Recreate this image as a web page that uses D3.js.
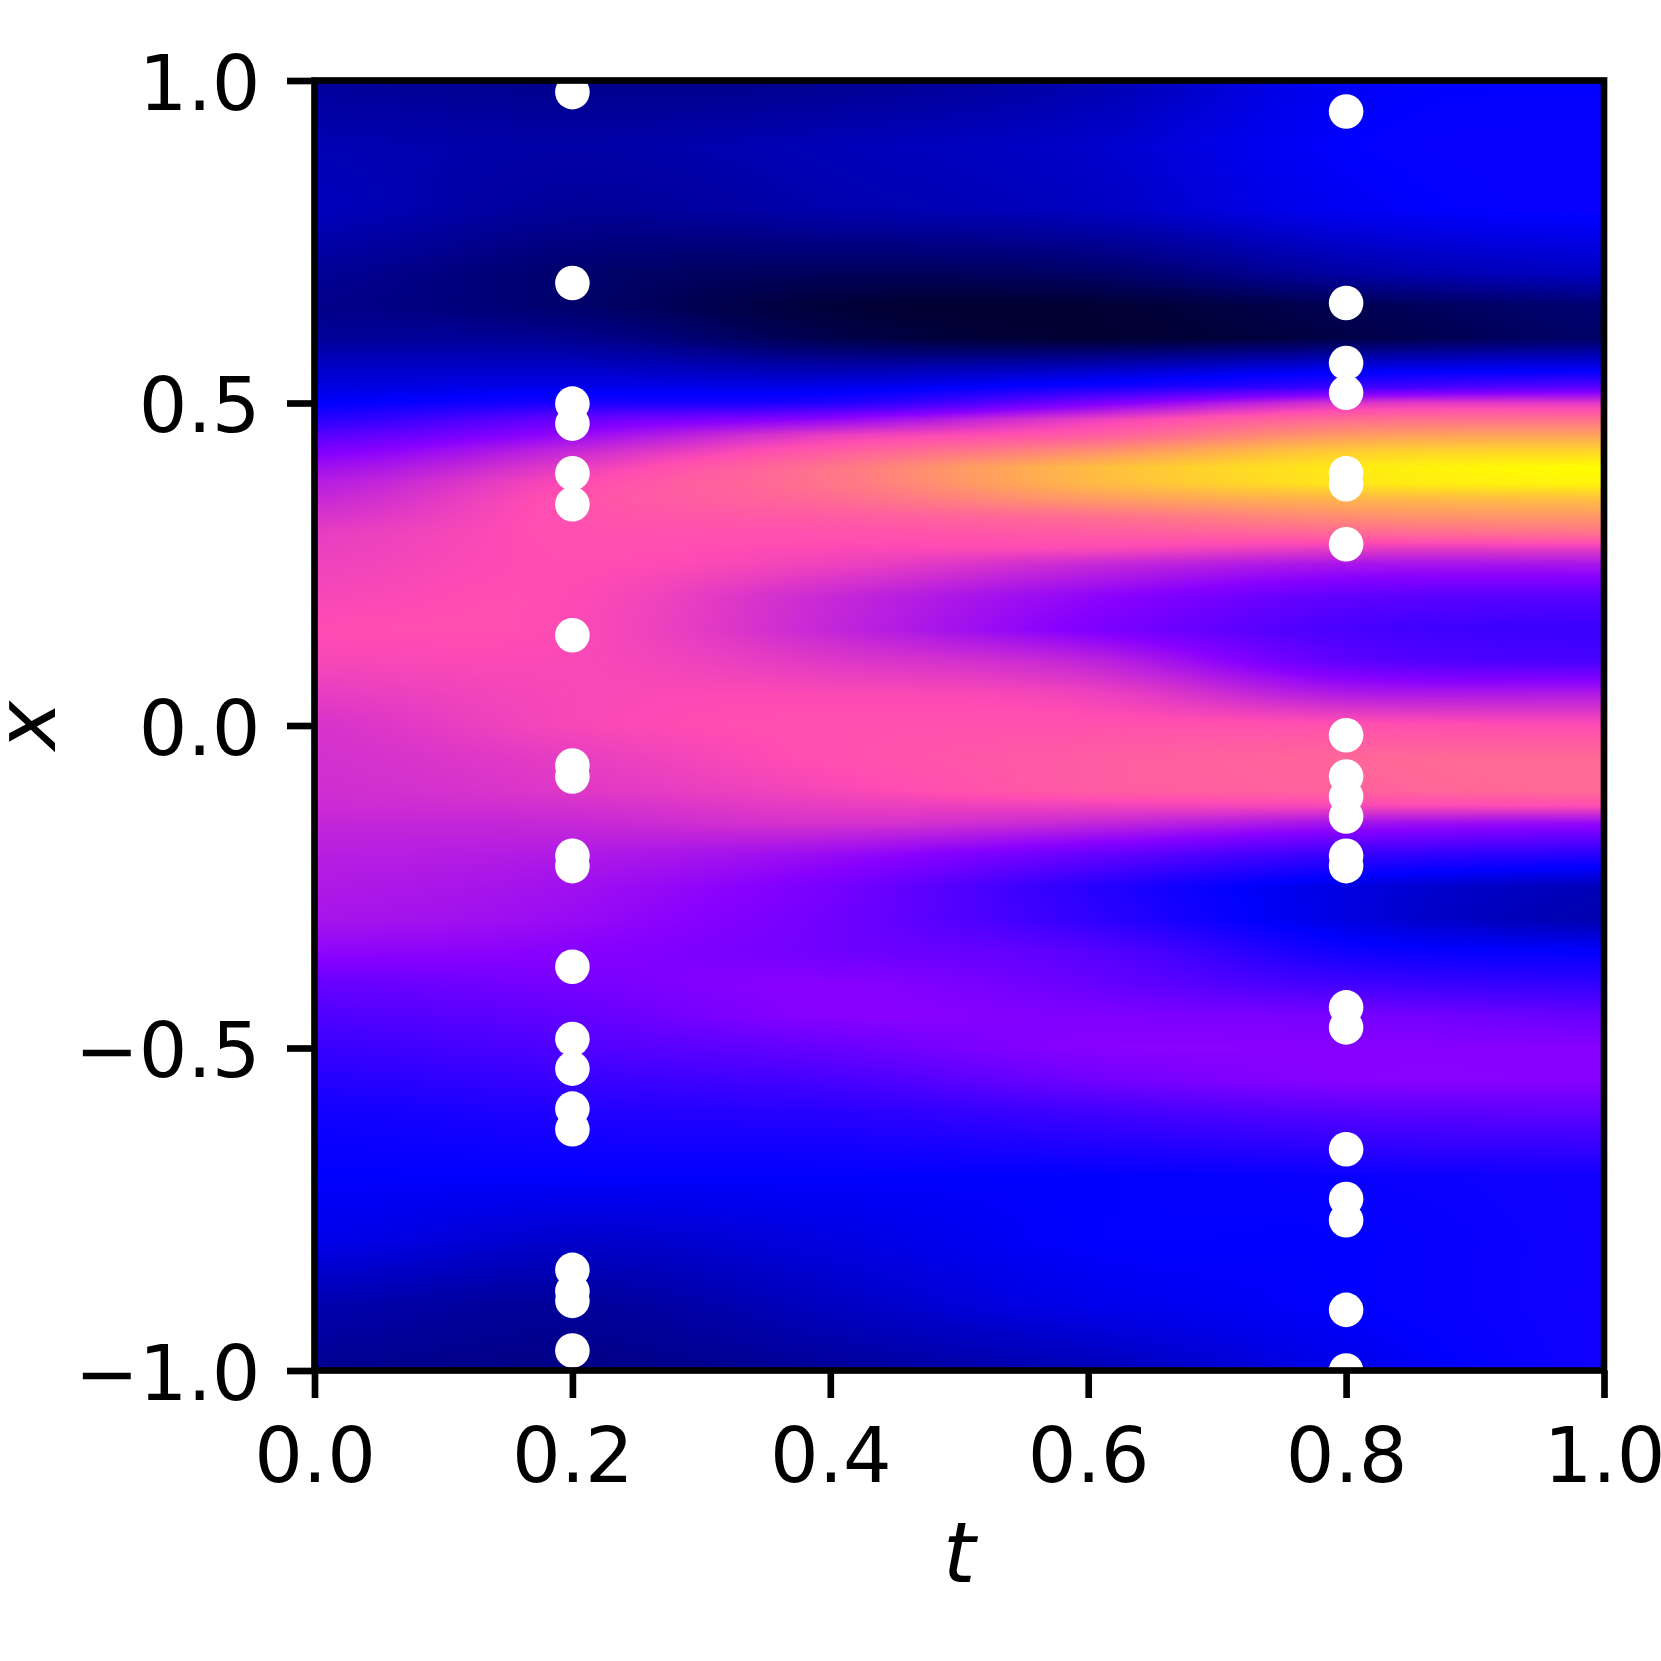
<!DOCTYPE html>
<html><head><meta charset="utf-8">
<script src="https://cdnjs.cloudflare.com/ajax/libs/d3/7.8.5/d3.min.js"></script>
<style>
html,body{margin:0;padding:0;background:#fff;}
svg{display:block;}
text{font-family:"DejaVu Sans";fill:#000;}
</style></head><body>
<div id="chart"></div>
<script>
const tCols=[0,0.2,0.4,0.6,0.8,1];
const xRows=[1,.9,.8,.7,.65,.6,.55,.525,.5,.475,.45,.425,.4,.375,.35,.325,.3,.275,.25,.2,.15,.1,.05,0,-.05,-.1,-.125,-.15,-.2,-.25,-.3,-.35,-.4,-.45,-.5,-.55,-.6,-.7,-.8,-.9,-1];
const col00=[.15,.175,.185,.145,.135,.15,.2,.22,.25,.30,.36,.41,.45,.48,.50,.52,.54,.545,.55,.56,.57,.56,.54,.52,.515,.51,.505,.495,.48,.47,.46,.43,.38,.35,.32,.295,.27,.25,.23,.17,.14];
const col02=[.135,.165,.15,.105,.105,.14,.2,.23,.28,.38,.44,.5,.54,.57,.58,.578,.575,.572,.57,.567,.565,.562,.56,.56,.54,.53,.515,.5,.47,.45,.44,.42,.40,.375,.35,.32,.29,.25,.2,.15,.13];
const col04=[.14,.18,.17,.09,.055,.075,.18,.23,.29,.43,.54,.60,.65,.65,.63,.60,.58,.565,.55,.50,.495,.53,.565,.575,.575,.56,.54,.52,.44,.40,.39,.39,.42,.42,.38,.34,.30,.25,.22,.19,.15];
const col06=[.17,.2,.19,.10,.05,.05,.2,.27,.40,.54,.60,.70,.79,.78,.72,.64,.60,.565,.50,.43,.41,.49,.55,.58,.60,.60,.55,.50,.38,.30,.31,.36,.38,.41,.42,.39,.33,.25,.25,.23,.18];
const col08=[.24,.25,.24,.16,.08,.07,.24,.32,.52,.63,.72,.82,.88,.87,.77,.70,.63,.54,.46,.37,.34,.37,.47,.58,.62,.615,.56,.46,.32,.22,.22,.27,.33,.40,.42,.42,.36,.26,.25,.25,.23];
const col10=[.25,.26,.26,.19,.11,.10,.25,.36,.53,.64,.74,.84,.92,.90,.79,.72,.65,.54,.46,.36,.32,.34,.47,.57,.63,.63,.57,.44,.3,.18,.17,.25,.31,.38,.42,.42,.37,.27,.27,.27,.27];
const columns=[col00,col02,col04,col06,col08,col10];
const pointsT02=[.982,.686,.499,.468,.391,.343,.140,-.062,-.079,-.202,-.218,-.374,-.486,-.532,-.594,-.626,-.844,-.877,-.892,-.969];
const pointsT08=[.952,.655,.562,.516,.391,.374,.281,-.015,-.079,-.110,-.141,-.202,-.218,-.437,-.468,-.657,-.734,-.767,-.906,-1.0];
const tTicks=[0,.2,.4,.6,.8,1];
const xTicks=[-1,-.5,0,.5,1];

const W=1661,H=1661,L=314.5,R=1604,T=80.5,B=1370.5;
const tS=d3.scaleLinear().domain([0,1]).range([L,R]);
const xS=d3.scaleLinear().domain([-1,1]).range([B,T]);
const colIdx=d3.scaleLinear().domain(tCols).range(tCols.map((_,i)=>i)).clamp(true);
const rowIdx=d3.scaleLinear().domain(xRows).range(xRows.map((_,i)=>i)).clamp(true);

const clip01=v=>Math.max(0,Math.min(1,v));
function gnuplot2(v){
  const r=clip01(v/.32-.78125), g=clip01(2*v-.84);
  const b=clip01(v<.25?4*v:v<.92?-2*v+1.84:v/.08-11.5);
  return [r*255,g*255,b*255];
}
function catmull(p0,p1,p2,p3,f){
  return .5*((2*p1)+(-p0+p2)*f+(2*p0-5*p1+4*p2-p3)*f*f+(-p0+3*p1-3*p2+p3)*f*f*f);
}
function valueAt(t,x){
  const c=colIdx(t), r=rowIdx(x), n=tCols.length;
  const c0=Math.min(Math.floor(c),n-2), r0=Math.min(Math.floor(r),xRows.length-2);
  const fc=c-c0, fr=r-r0;
  const rowV=k=>{const col=columns[Math.max(0,Math.min(n-1,k))];return col[r0]*(1-fr)+col[r0+1]*fr;};
  return catmull(rowV(c0-1),rowV(c0),rowV(c0+1),rowV(c0+2),fc);
}

const svg=d3.select("#chart").append("svg").attr("width",W).attr("height",H).attr("viewBox",`0 0 ${W} ${H}`);
const cw=Math.round(R-L), ch=Math.round(B-T);
const canvas=document.createElement("canvas");canvas.width=cw;canvas.height=ch;
const ctx=canvas.getContext("2d");const img=ctx.createImageData(cw,ch);
for(let j=0;j<ch;j++){
  const x=xS.invert(T+j+.5);
  for(let i=0;i<cw;i++){
    const t=tS.invert(L+i+.5);
    const [r,g,b]=gnuplot2(valueAt(t,x));
    const k=4*(j*cw+i);img.data[k]=r;img.data[k+1]=g;img.data[k+2]=b;img.data[k+3]=255;
  }
}
ctx.putImageData(img,0,0);
svg.append("image").attr("x",L).attr("y",T).attr("width",R-L).attr("height",B-T).attr("preserveAspectRatio","none").attr("href",canvas.toDataURL());

svg.append("clipPath").attr("id","plot").append("rect").attr("x",L).attr("y",T).attr("width",R-L).attr("height",B-T);
const pts=svg.append("g").attr("clip-path","url(#plot)");
[[0.2,pointsT02],[0.8,pointsT08]].forEach(([t,vals])=>{
  pts.selectAll(null).data(vals).enter().append("circle")
    .attr("cx",tS(t)).attr("cy",d=>xS(d)).attr("r",17.3).attr("fill","#fff");
});

const lw=6.67;
const gx=svg.append("g").attr("transform",`translate(0,${B})`)
  .call(d3.axisBottom(tS).tickValues(tTicks).tickFormat(d3.format(".1f")).tickSize(27.5).tickPadding(0));
const gy=svg.append("g").attr("transform",`translate(${L},0)`)
  .call(d3.axisLeft(xS).tickValues(xTicks).tickFormat(d=>d3.format(".1f")(d).replace("-","\u2212")).tickSize(27.5).tickPadding(0));
[gx,gy].forEach(g=>{
  g.select(".domain").remove();
  g.selectAll("line").attr("stroke","#000").attr("stroke-width",lw);
  g.selectAll("text").attr("font-size",76.5).attr("fill","#000");
});
gx.selectAll("text").attr("dy",null).attr("y",111.5);
gy.selectAll("text").attr("dy",null).attr("x",-54).attr("y",28.5);

svg.append("rect").attr("x",L).attr("y",T).attr("width",R-L).attr("height",B-T)
  .attr("fill","none").attr("stroke","#000").attr("stroke-width",lw);

svg.append("text").attr("x",(L+R)/2).attr("y",1582).attr("text-anchor","middle")
  .attr("font-size",83).attr("font-style","italic").text("t");
svg.append("text").attr("transform",`translate(55,${(T+B)/2}) rotate(-90)`).attr("text-anchor","middle")
  .attr("font-size",83).attr("font-style","italic").text("x");
</script></body></html>
